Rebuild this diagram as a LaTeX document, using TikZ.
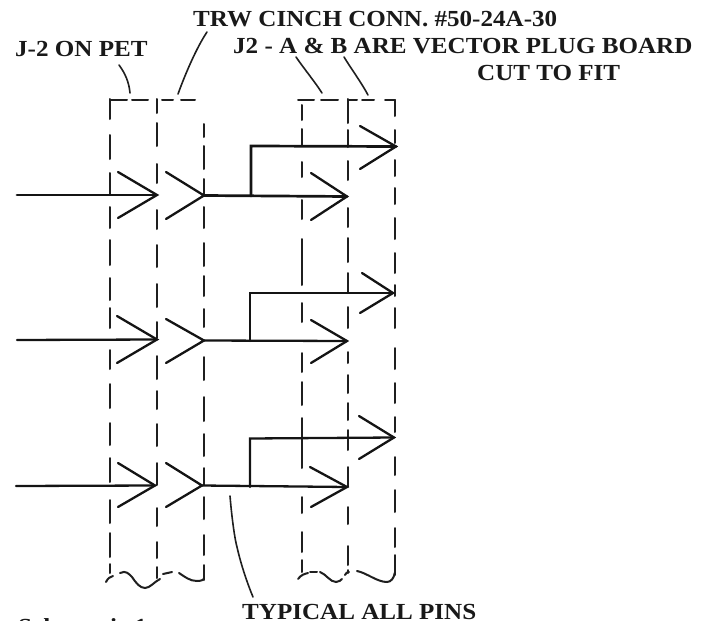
\documentclass[tikz,border=0pt]{standalone}
\usepackage{fontspec}
\setmainfont[FakeStretch=1.09]{Liberation Serif}
\tikzset{
  wire/.style={line width=2.3pt,black!92,line cap=round,line join=miter},
  heavy/.style={line width=2.7pt,black!92,line cap=round},
  dashseg/.style={line width=2pt,black!88,line cap=round},
  leader/.style={line width=1.6pt,black!88,line cap=round},
  lab/.style={font=\bfseries\fontsize{23}{23}\selectfont,anchor=base west,inner sep=0pt,text=black!90},
}
\newcommand{\colsegs}[2]{\foreach \a/\b in {#2} {\draw[dashseg] (#1,\a) -- (#1,\b);}}
\newcommand{\chev}[3]{\draw[wire,miter limit=3] (#2) -- (#1) -- (#3);}
\begin{document}
\begin{tikzpicture}[x=1pt,y=-1pt]
\useasboundingbox (0,0) rectangle (707,621);
% labels
\node[lab] (trw) at (193,26) {TRW CINCH CONN. \#50-24A-30};
\node[lab] (j2) at (233,53) {J2 - A \& B ARE VECTOR PLUG BOARD};
\node[lab] (cut) at (477,80) {CUT TO FIT};
\node[lab] (pet) at (15,56) {J-2 ON PET};
\node[lab] (typ) at (242,619) {TYPICAL ALL PINS};
\node[lab] (sch) at (18,634) {Schematic 1};
% dashed columns
\colsegs{109.7}{99/119,135/159,173/194,207/228,240/265,278/300,308/328,350/369,384/408,423/445,458/482,500/523,533/557,564/573}
\colsegs{157}{99/113,123/146,164/183,210/229,245/267,284/307,322/338,356/379,391/409,424/446,463/485,508/526,542/558,567/578}
\colsegs{204}{124/137,146/169,179/195,207/228,243/266,276/296,309/327,357/380,397/421,434/456,468/485,497/519,535/555,565/580}
\colsegs{301.7}{105/120,129/145,162/177,200/219,239/285,303/322,353/372,382/405,418/468,497/513,532/552,560/572}
\colsegs{347.7}{99/123,130/147,161/180,208/227,238/262,273/293,307/328,352/363,375/393,403/420,430/450,467/487,507/524,546/565,570/573}
\colsegs{394.7}{100/116,130/143,160/176,188/204,218/239,253/273,285/296,308/328,348/369,383/403,417/432,457/475,490/512,528/547,555/575}
% top dashes
\foreach \a/\b in {110/127,132/148,162/173,181/195,298/314,321/338,348/357,362/374,385/395} {\draw[dashseg] (\a,99.5) -- (\b,99.5);}
% bottom wavy edges
\draw[dashseg] (106,582) .. controls (108,578) and (110,577) .. (113,576);
\draw[dashseg] (120,573) .. controls (126,570) and (129,574) .. (132,577) .. controls (136,583) and (140,588) .. (145,588) .. controls (150,588) and (154,582) .. (160,579);
\draw[dashseg] (163,574) -- (172,572);
\draw[dashseg] (179,573) .. controls (185,577) and (190,581) .. (197,581) .. controls (201,581) and (204,580) .. (204,578);
\draw[dashseg] (298,579) .. controls (301,575) and (304,574) .. (308,573);
\draw[dashseg] (310,572) -- (317,572);
\draw[dashseg] (320,572) .. controls (326,574) and (330,582) .. (336,582) .. controls (339,582) and (341,580) .. (342,579);
\draw[dashseg] (345,575) .. controls (346,573) and (347,572) .. (349,572);
\draw[dashseg] (357,571) .. controls (367,573) and (377,582) .. (387,582) .. controls (391,582) and (394,578) .. (394.7,573);
% row 1
\coordinate (in1) at (17,195); \coordinate (t1a) at (157,195); \coordinate (t1b) at (204,195.5);
\coordinate (t1c) at (347,196.5); \coordinate (t1d) at (396,146.5); \coordinate (br1) at (251,196); \coordinate (up1) at (251,146);
\draw[heavy] (in1) -- (t1a);
\draw[heavy] (t1b) -- (t1c);
\draw[heavy,line join=miter] (br1) -- (up1) -- (t1d);
\chev{t1a}{118,172}{118,218}
\chev{t1b}{166,172}{166,219}
\chev{t1c}{311,173}{311,220}
\chev{t1d}{360,126}{360,169}
% row 2
\coordinate (in2) at (17,340); \coordinate (t2a) at (157,339.5); \coordinate (t2b) at (204,340.5);
\coordinate (t2c) at (347,341); \coordinate (t2d) at (393,293); \coordinate (br2) at (250,341); \coordinate (up2) at (250,293);
\draw[wire] (in2) -- (t2a);
\draw[wire] (t2b) -- (t2c);
\draw[wire] (br2) -- (up2) -- (t2d);
\chev{t2a}{117,316}{117,363}
\chev{t2b}{166,319}{166,363}
\chev{t2c}{311,320}{311,363}
\chev{t2d}{362,273}{360,313}
% row 3
\coordinate (in3) at (16,486); \coordinate (t3a) at (155,485.5); \coordinate (t3b) at (202,485.5);
\coordinate (t3c) at (347,487); \coordinate (t3d) at (394,437.5); \coordinate (br3) at (250,487); \coordinate (up3) at (250,438.5);
\draw[wire] (in3) -- (t3a);
\draw[wire] (t3b) -- (t3c);
\draw[wire] (br3) -- (up3) -- (t3d);
\chev{t3a}{118,463}{118,507}
\chev{t3b}{166,463}{166,507}
\chev{t3c}{310,467}{311,507}
\chev{t3d}{359,416}{359,459}
% leaders
\draw[leader] (119,65) .. controls (125,73) and (129,82) .. (130,93);
\draw[leader] (207,32) .. controls (197,47) and (186,72) .. (178,94);
\draw[leader] (296,57) .. controls (305,70) and (315,82) .. (322,93);
\draw[leader] (344,57) .. controls (352,70) and (361,82) .. (368,95);
\draw[leader] (230,496) .. controls (232,520) and (235,540) .. (237,547) .. controls (241,565) and (248,585) .. (253,597);
\end{tikzpicture}
\end{document}
